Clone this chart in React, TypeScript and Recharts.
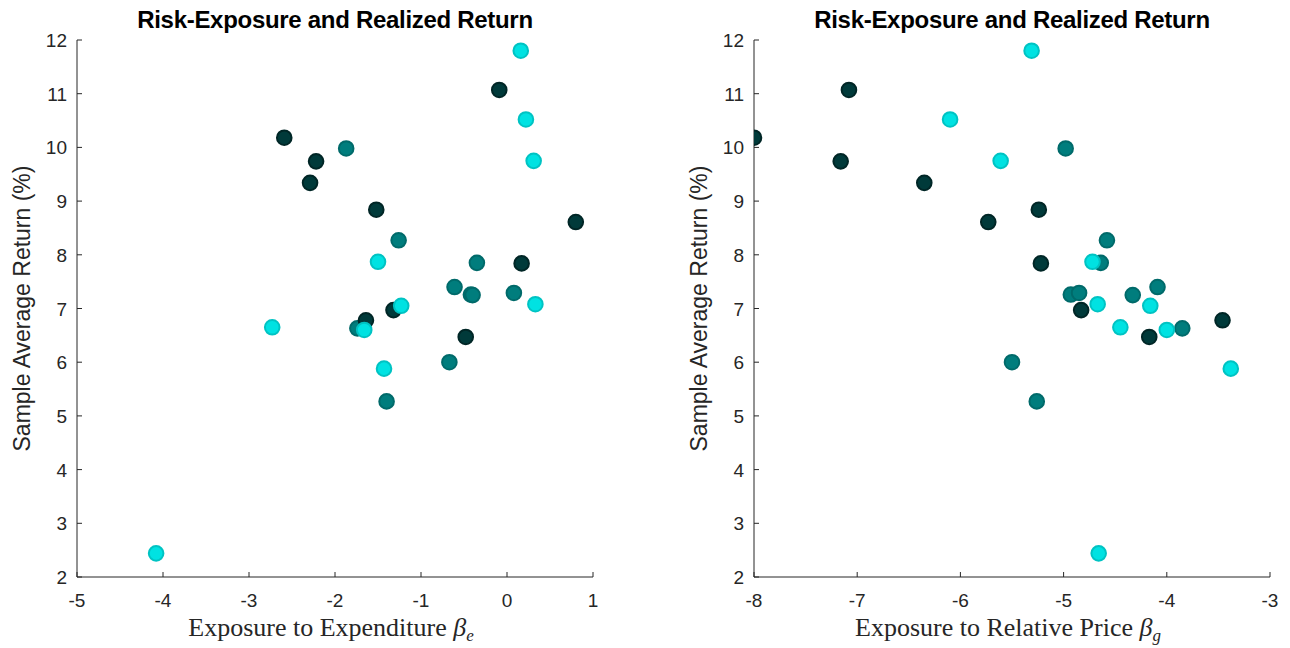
import React from 'react';
import { ScatterChart, Scatter, XAxis, YAxis } from 'recharts';

// Sample average returns (%) and exposures, grouped by colour
const darkReturn = [11.07, 10.18, 9.74, 9.34, 8.84, 8.61, 7.84, 6.97, 6.78, 6.47];
const darkBetaE = [-0.09, -2.59, -2.22, -2.29, -1.52, 0.80, 0.17, -1.32, -1.64, -0.48];
const darkBetaG = [-7.08, -8.0, -7.16, -6.35, -5.24, -5.73, -5.22, -4.83, -3.46, -4.17];

const tealReturn = [9.98, 8.27, 7.85, 7.40, 7.26, 7.29, 7.25, 6.63, 6.0, 5.27];
const tealBetaE = [-1.87, -1.26, -0.35, -0.61, -0.42, 0.08, -0.40, -1.74, -0.67, -1.40];
const tealBetaG = [-4.98, -4.58, -4.64, -4.09, -4.93, -4.85, -4.33, -3.85, -5.50, -5.26];

const cyanReturn = [11.8, 10.52, 9.75, 7.87, 7.08, 7.05, 6.65, 6.6, 5.88, 2.44];
const cyanBetaE = [0.16, 0.22, 0.31, -1.5, 0.33, -1.23, -2.73, -1.66, -1.43, -4.08];
const cyanBetaG = [-5.31, -6.10, -5.61, -4.72, -4.67, -4.16, -4.45, -4.0, -3.38, -4.66];

const yTicks = [2, 3, 4, 5, 6, 7, 8, 9, 10, 11, 12];
const xTicksE = [-5, -4, -3, -2, -1, 0, 1];
const xTicksG = [-8, -7, -6, -5, -4, -3];

const TITLE = 'Risk-Exposure and Realized Return';
const YLABEL = 'Sample Average Return (%)';

const zip = (xs: number[], ys: number[]) => xs.map((x, i) => ({ x, y: ys[i] }));

const COLORS = {
  dark: { fill: '#003a3a', stroke: '#002626' },
  teal: { fill: '#007d7d', stroke: '#006a6a' },
  cyan: { fill: '#00e2e2', stroke: '#00c3c3' },
};

const makeShape = (c: { fill: string; stroke: string }) => (props: any) => {
  const { cx, cy } = props;
  if (cx == null || cy == null) return <g />;
  return <circle cx={cx} cy={cy} r={7.3} fill={c.fill} stroke={c.stroke} strokeWidth={2} />;
};

const TICK_COLOR = '#262626';
const AXIS_COLOR = '#262626';
const SANS = 'Liberation Sans, Arial, sans-serif';

const XTick = (props: any) => {
  const { x, y, payload } = props;
  const m = 10;
  return (
    <g>
      <line x1={x} y1={y - m} x2={x} y2={y - m - 5} stroke={AXIS_COLOR} strokeWidth={1} />
      <text x={x} y={y} dy={20} textAnchor="middle" fill={TICK_COLOR} fontSize={19} fontFamily={SANS}>
        {payload.value}
      </text>
    </g>
  );
};

const YTick = (props: any) => {
  const { x, y, payload } = props;
  const m = 10;
  return (
    <g>
      <line x1={x + m} y1={y} x2={x + m + 5} y2={y} stroke={AXIS_COLOR} strokeWidth={1} />
      <text x={x} y={y} dy={7} textAnchor="end" fill={TICK_COLOR} fontSize={19} fontFamily={SANS}>
        {payload.value}
      </text>
    </g>
  );
};

type PanelProps = {
  left: number;
  yAxisWidth: number;
  marginRight: number;
  domain: [number, number];
  xTicks: number[];
  dark: { x: number; y: number }[];
  teal: { x: number; y: number }[];
  cyan: { x: number; y: number }[];
  xLabelMain: string;
  sub: string;
};

const Panel = (p: PanelProps) => {
  const W = 645;
  const H = 648;
  const plotLeft = p.yAxisWidth;
  const plotRight = W - p.marginRight;
  const cx = (plotLeft + plotRight) / 2;
  return (
    <div style={{ position: 'absolute', left: p.left, top: 0, width: W, height: H }}>
      <ScatterChart width={W} height={H} margin={{ top: 40, right: p.marginRight, bottom: 0, left: 0 }}>
        <XAxis
          type="number"
          dataKey="x"
          domain={p.domain}
          ticks={p.xTicks}
          allowDataOverflow
          height={71}
          tickSize={0}
          tickMargin={10}
          tickLine={false}
          axisLine={{ stroke: AXIS_COLOR, strokeWidth: 1 }}
          tick={<XTick />}
          interval={0}
        />
        <YAxis
          type="number"
          dataKey="y"
          domain={[2, 12]}
          ticks={yTicks}
          allowDataOverflow
          width={p.yAxisWidth}
          tickSize={0}
          tickMargin={10}
          tickLine={false}
          axisLine={{ stroke: AXIS_COLOR, strokeWidth: 1 }}
          tick={<YTick />}
          interval={0}
          label={{
            content: (lp: any) => {
              const vb = lp.viewBox || {};
              const tx = (vb.x || 0) + vb.width - 47;
              const ty = (vb.y || 0) + (vb.height || 0) / 2;
              return (
                <text
                  x={tx}
                  y={ty}
                  transform={`rotate(-90 ${tx} ${ty})`}
                  textAnchor="middle"
                  fill={TICK_COLOR}
                  fontSize={23}
                  fontFamily={SANS}
                >
                  {YLABEL}
                </text>
              );
            },
          }}
        />
        <Scatter data={p.teal} shape={makeShape(COLORS.teal)} isAnimationActive={false} />
        <Scatter data={p.dark} shape={makeShape(COLORS.dark)} isAnimationActive={false} />
        <Scatter data={p.cyan} shape={makeShape(COLORS.cyan)} isAnimationActive={false} />
      </ScatterChart>
      <div
        style={{
          position: 'absolute',
          left: cx - 300,
          width: 600,
          top: 5,
          textAlign: 'center',
          fontFamily: SANS,
          fontWeight: 'bold',
          fontSize: 24,
          lineHeight: '30px',
          color: '#000',
          letterSpacing: '-0.3px',
        }}
      >
        {TITLE}
      </div>
      <div
        style={{
          position: 'absolute',
          left: cx - 304,
          width: 600,
          top: 612,
          textAlign: 'center',
          fontFamily: 'Liberation Serif, DejaVu Serif, serif',
          fontSize: 26,
          lineHeight: '32px',
          color: '#262626',
        }}
      >
        {p.xLabelMain} <i>β</i>
        <sub style={{ fontSize: 17, fontStyle: 'italic', verticalAlign: '-5px' }}>{p.sub}</sub>
      </div>
    </div>
  );
};

export default function App() {
  return (
    <div style={{ position: 'absolute', left: 0, top: 0, width: 1290, height: 648, background: '#fff' }}>
      <Panel
        left={0}
        yAxisWidth={77}
        marginRight={52}
        domain={[-5, 1]}
        xTicks={xTicksE}
        dark={zip(darkBetaE, darkReturn)}
        teal={zip(tealBetaE, tealReturn)}
        cyan={zip(cyanBetaE, cyanReturn)}
        xLabelMain="Exposure to Expenditure"
        sub="e"
      />
      <Panel
        left={645}
        yAxisWidth={109}
        marginRight={20}
        domain={[-8, -3]}
        xTicks={xTicksG}
        dark={zip(darkBetaG, darkReturn)}
        teal={zip(tealBetaG, tealReturn)}
        cyan={zip(cyanBetaG, cyanReturn)}
        xLabelMain="Exposure to Relative Price"
        sub="g"
      />
    </div>
  );
}
